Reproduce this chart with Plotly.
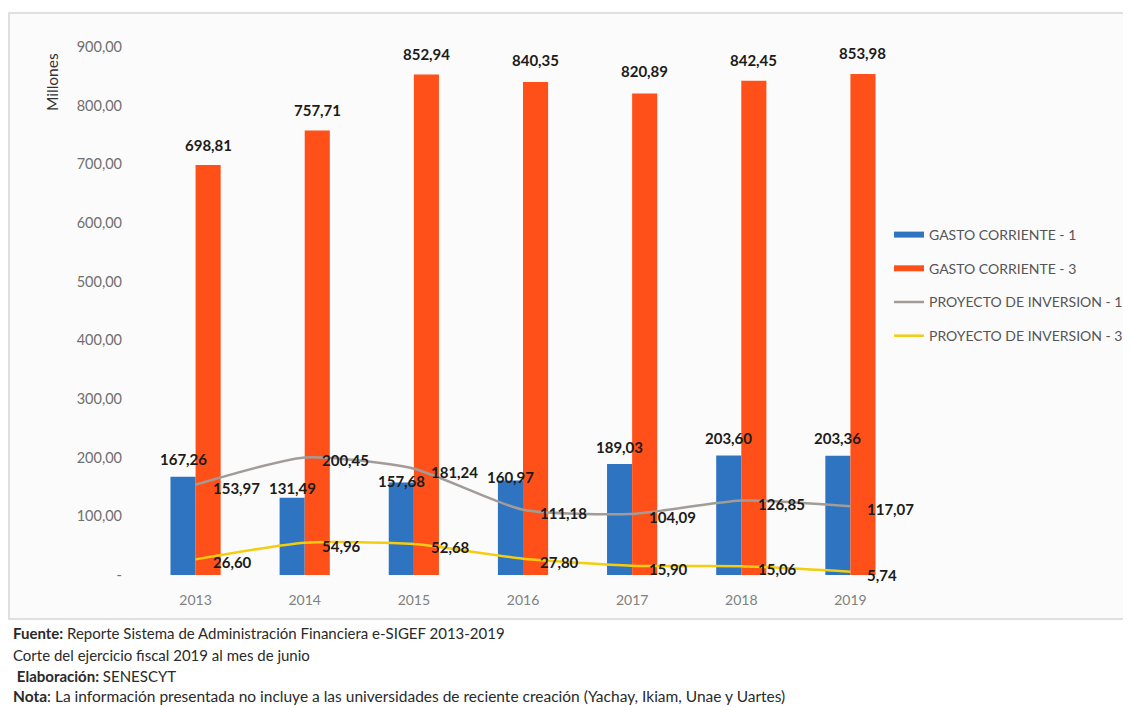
import plotly.graph_objects as go

# ---------------- data ----------------
years = ["2013", "2014", "2015", "2016", "2017", "2018", "2019"]
gasto_corriente_1 = [167.26, 131.49, 157.68, 160.97, 189.03, 203.60, 203.36]
gasto_corriente_3 = [698.81, 757.71, 852.94, 840.35, 820.89, 842.45, 853.98]
proyecto_inversion_1 = [153.97, 200.45, 181.24, 111.18, 104.09, 126.85, 117.07]
proyecto_inversion_3 = [26.60, 54.96, 52.68, 27.80, 15.90, 15.06, 5.74]
series_names = ["GASTO CORRIENTE - 1", "GASTO CORRIENTE - 3",
                "PROYECTO DE INVERSION - 1", "PROYECTO DE INVERSION - 3"]
y_tick_values = [0, 100, 200, 300, 400, 500, 600, 700, 800, 900]
y_tick_labels = ["-", "100,00", "200,00", "300,00", "400,00", "500,00",
                 "600,00", "700,00", "800,00", "900,00"]
y_title = "Millones"
footer_lines = [
    "<b>Fuente:</b> Reporte Sistema de Administración Financiera e-SIGEF 2013-2019",
    "Corte del ejercicio fiscal 2019 al mes de junio",
    " <b>Elaboración:</b> SENESCYT",
    "<b>Nota</b>: La información presentada no incluye a las universidades de reciente creación (Yachay, Ikiam, Unae y Uartes)",
]

# ---------------- style ----------------
OFF = 8  # page body margin
W, H = 1131 - OFF, 707 - OFF
PLOT_L, PLOT_R, PLOT_T, PLOT_B = 141, 905, 47, 575  # target pixels in the window
ML, MR, MT, MB = PLOT_L - OFF, (1131 - PLOT_R), PLOT_T - OFF, (707 - PLOT_B)
PW, PH = W - ML - MR, H - MT - MB
FONT = "Lato, 'Open Sans', sans-serif"
BLUE, ORANGE, GRAY, YELLOW = "#2E74C0", "#FF5019", "#A19C98", "#F4CC10"
LABEL_COLOR = "#1c1c1c"
blue_label_yshift = [18, 10, 1, 4, 17, 18, 18]
orange_label_yshift = [20, 20, 21, 22, 22, 21, 21]
bar_half = 12.5


def fmt(v):
    return f"{v:.2f}".replace(".", ",")


def px_x(px):
    return (px - PLOT_L) / PW


def px_y(py):
    return (PLOT_B - py) / PH


fig = go.Figure()

fig.add_trace(go.Bar(x=years, y=gasto_corriente_1, name=series_names[0],
                     marker=dict(color=BLUE, line_width=0), showlegend=False))
fig.add_trace(go.Bar(x=years, y=gasto_corriente_3, name=series_names[1],
                     marker=dict(color=ORANGE, line_width=0), showlegend=False))
fig.add_trace(go.Scatter(x=years, y=proyecto_inversion_1, name=series_names[2],
                         mode="lines", line=dict(color=GRAY, width=2.5, shape="spline", smoothing=0.6),
                         showlegend=False))
fig.add_trace(go.Scatter(x=years, y=proyecto_inversion_3, name=series_names[3],
                         mode="lines", line=dict(color=YELLOW, width=2.5, shape="spline", smoothing=0.6),
                         showlegend=False))

# legend entries (wide swatches like the original)
legend_styles = [(BLUE, 6), (ORANGE, 6), (GRAY, 2.5), (YELLOW, 2.5)]
for name, (col, wdt) in zip(series_names, legend_styles):
    fig.add_trace(go.Scatter(x=[years[0]], y=[None], mode="lines", name=name,
                             line=dict(color=col, width=wdt), legendgroup=name,
                             showlegend=True, hoverinfo="skip"))

annotations = []
lab_font = dict(size=15, color=LABEL_COLOR, family=FONT)
# data labels (x given as category index)
for i, yr in enumerate(years):
    annotations.append(dict(x=i, y=gasto_corriente_1[i], text=f"<b>{fmt(gasto_corriente_1[i])}</b>",
                            xshift=-bar_half, yshift=blue_label_yshift[i], showarrow=False,
                            yanchor="middle", font=lab_font))
    annotations.append(dict(x=i, y=gasto_corriente_3[i], text=f"<b>{fmt(gasto_corriente_3[i])}</b>",
                            xshift=bar_half, yshift=orange_label_yshift[i], showarrow=False,
                            yanchor="middle", font=lab_font))
    for series in (proyecto_inversion_1, proyecto_inversion_3):
        annotations.append(dict(x=i, y=series[i], text=f"<b>{fmt(series[i])}</b>",
                                xshift=15, yshift=-3, xanchor="left", yanchor="middle",
                                showarrow=False, font=lab_font))

# y-axis title at top
annotations.append(dict(xref="paper", yref="paper", x=px_x(52), y=px_y(82), text=y_title,
                        textangle=-90, showarrow=False, xanchor="center", yanchor="middle",
                        font=dict(size=15.5, color="#333333", family=FONT)))

# footer
footer_y = [633, 655, 676, 696]
footer_size = [15, 15, 15, 15.5]
for txt, fy, fs in zip(footer_lines, footer_y, footer_size):
    annotations.append(dict(xref="paper", yref="paper", x=px_x(11), y=px_y(fy), text=txt,
                            showarrow=False, xanchor="left", yanchor="middle",
                            font=dict(size=fs, color="#2a2a2a", family=FONT)))

shapes = [dict(type="rect", xref="paper", yref="paper", layer="below",
               x0=px_x(9), x1=px_x(1140), y0=px_y(13), y1=px_y(619),
               line=dict(color="#d6d6d6", width=1.5), fillcolor="#fbfbfb")]

fig.update_layout(
    width=W, height=H,
    margin=dict(l=ML, r=MR, t=MT, b=MB, autoexpand=False),
    paper_bgcolor="#ffffff", plot_bgcolor="rgba(0,0,0,0)",
    barmode="group", bargap=0.54, bargroupgap=0,
    font=dict(family=FONT, color="#555555"),
    annotations=annotations, shapes=shapes,
    legend=dict(x=px_x(889), y=px_y(219), xanchor="left", yanchor="top",
                bgcolor="rgba(0,0,0,0)", traceorder="grouped", tracegroupgap=12.5,
                font=dict(size=14, color="#555555", family=FONT),
                itemwidth=30),
    xaxis=dict(type="category", range=[-0.5, len(years) - 0.5], autorange=False,
               showgrid=False, zeroline=False, showline=False,
               ticks="", ticklabelstandoff=15,
               tickfont=dict(size=14, color="#808080", family=FONT)),
    yaxis=dict(range=[0, 900], autorange=False, tickvals=y_tick_values, ticktext=y_tick_labels,
               showgrid=False, zeroline=False, showline=False, ticks="",
               ticklabelstandoff=18,
               tickfont=dict(size=14.5, color="#6f6f6f", family=FONT)),
)

fig.write_html("out.html")
